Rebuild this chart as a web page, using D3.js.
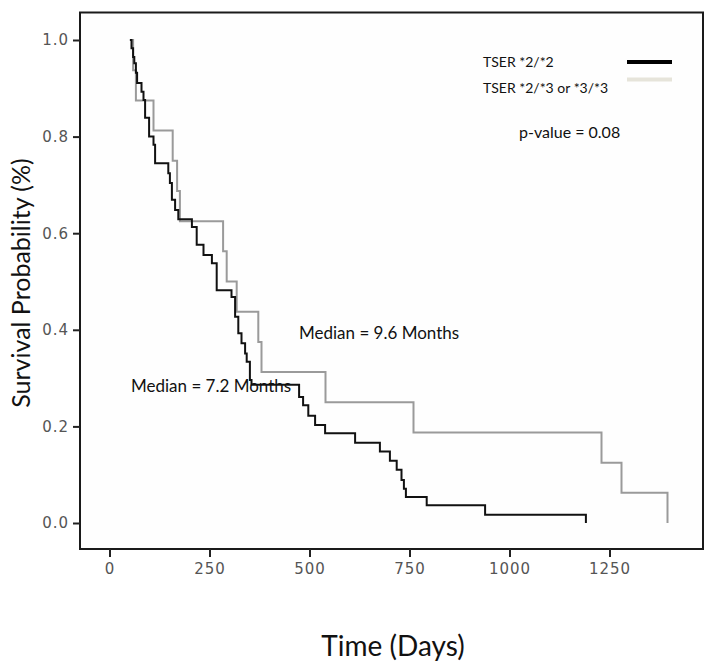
<!DOCTYPE html>
<html lang="en">
<head>
    <meta charset="UTF-8">
    <title>Kaplan-Meier TSER</title>
    <style>
        body { margin: 0; overflow: hidden; background: #fff; }
        svg { display: block; }
        .tick text { font-family: "DejaVu Sans", sans-serif; font-size: 15px; fill: #555; letter-spacing: 1px; }
        .lbl { font-family: Lato, "Open Sans", sans-serif; fill: #111; }
    </style>
    <script src="https://d3js.org/d3.v7.min.js"></script>
</head>
<body>
<svg id="chart" width="714" height="666"></svg>
<script>
        // TSER *2/*2 (black) - steps
        const blackDays = [51, 55, 59, 62, 66, 69, 80, 85, 89, 99, 110, 114, 147, 151, 156, 164, 172,
            206, 218, 235, 256, 268, 305, 314, 322, 330, 339, 343, 351, 355, 474, 484, 497, 514, 539,
            614, 676, 701, 718, 730, 736, 741, 793, 939, 1191];
        const blackSurv = [1.0, 0.983, 0.965, 0.952, 0.932, 0.911, 0.893, 0.876, 0.839, 0.80, 0.783, 0.745, 0.724, 0.704, 0.669, 0.648, 0.629,
            0.613, 0.576, 0.555, 0.538, 0.482, 0.468, 0.427, 0.393, 0.372, 0.351, 0.334, 0.296, 0.286, 0.261, 0.244, 0.222, 0.203, 0.186,
            0.166, 0.148, 0.129, 0.110, 0.089, 0.071, 0.054, 0.037, 0.017, 0.0];

        // TSER *2/*3 or *3/*3 (gray)
        const grayDays = [51, 59, 66, 110, 158, 169, 176, 284, 293, 318, 372, 380, 540, 760, 1230, 1280, 1395];
        const graySurv = [1.0, 0.9375, 0.875, 0.8125, 0.75, 0.6875, 0.625, 0.5625, 0.5, 0.4375, 0.375, 0.3125, 0.25, 0.1875, 0.125, 0.0625, 0.0];

        const xTicks = [0, 250, 500, 750, 1000, 1250];
        const yTicks = [0, 0.2, 0.4, 0.6, 0.8, 1.0];

        const legendLabels = ["TSER *2/*2", "TSER *2/*3 or *3/*3"];
        const legendColors = ["#000", "#e6e4da"];
        const lineColors = ["#111", "#9a9a9a"];

        const svg = d3.select("#chart");
        const frame = { left: 80, right: 703, top: 12.5, bottom: 549 };

        const x = d3.scaleLinear().domain([0, 1250]).range([109.5, 609.5]);
        const y = d3.scaleLinear().domain([0, 1]).range([523, 40]);

        // frame
        svg.append("rect")
            .attr("x", frame.left).attr("y", frame.top)
            .attr("width", frame.right - frame.left)
            .attr("height", frame.bottom - frame.top)
            .attr("fill", "#fefefe")
            .attr("stroke", "#1a1a1a")
            .attr("stroke-width", 2);

        const yAxis = svg.append("g")
            .attr("transform", `translate(${frame.left},0)`)
            .call(d3.axisLeft(y).tickValues(yTicks).tickFormat(d3.format(".1f")).tickSize(7).tickPadding(4));
        const xAxis = svg.append("g")
            .attr("transform", `translate(0,${frame.bottom})`)
            .call(d3.axisBottom(x).tickValues(xTicks).tickFormat(d3.format("d")).tickSize(8).tickPadding(6));
        [yAxis, xAxis].forEach(g => {
            g.select(".domain").remove();
            g.selectAll(".tick line").attr("stroke", "#222").attr("stroke-width", 2);
        });

        const step = d3.line()
            .x(d => x(d[0]))
            .y(d => y(d[1]))
            .curve(d3.curveStepAfter);

        const series = [
            d3.zip(grayDays, graySurv),
            d3.zip(blackDays, blackSurv)
        ];
        svg.selectAll(".km")
            .data(series)
            .enter().append("path")
            .attr("class", "km")
            .attr("d", step)
            .attr("fill", "none")
            .attr("stroke", (d, i) => i === 0 ? lineColors[1] : lineColors[0])
            .attr("stroke-width", 2);

        // legend
        legendLabels.forEach((t, i) => {
            svg.append("text").attr("class", "lbl")
                .attr("x", 483).attr("y", 67 + i * 26)
                .attr("font-size", 14).text(t);
            svg.append("line")
                .attr("x1", 627).attr("x2", 672)
                .attr("y1", 62 + i * 17.5).attr("y2", 62 + i * 17.5)
                .attr("stroke", legendColors[i]).attr("stroke-width", 4);
        });

        svg.append("text").attr("class", "lbl")
            .attr("x", 519).attr("y", 138).attr("font-size", 16)
            .text("p-value = 0.08");
        svg.append("text").attr("class", "lbl")
            .attr("x", 299).attr("y", 339).attr("font-size", 17)
            .text("Median = 9.6 Months");
        svg.append("text").attr("class", "lbl")
            .attr("x", 131).attr("y", 392).attr("font-size", 17)
            .text("Median = 7.2 Months");

        // axis titles
        svg.append("text").attr("class", "lbl")
            .attr("x", 393).attr("y", 656).attr("text-anchor", "middle")
            .attr("font-size", 28).text("Time (Days)");
        svg.append("text").attr("class", "lbl")
            .attr("transform", "translate(30,283) rotate(-90)")
            .attr("text-anchor", "middle")
            .attr("font-size", 25).text("Survival Probability (%)");
</script>
</body>
</html>
